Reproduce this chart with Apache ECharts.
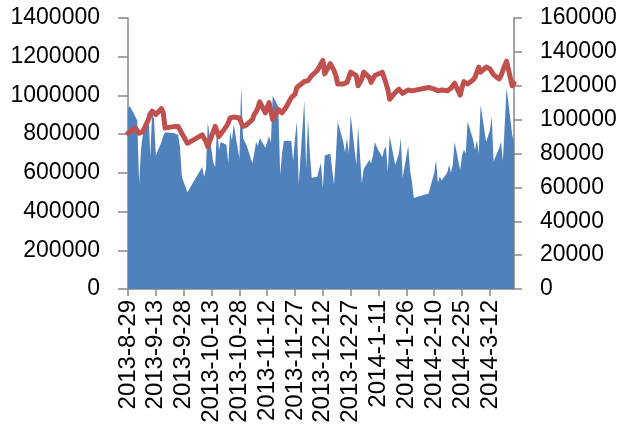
<!DOCTYPE html>
<html>
<head>
<meta charset="utf-8">
<script src="https://cdn.jsdelivr.net/npm/echarts@6/dist/echarts.min.js"></script>
<style>
  html, body { margin: 0; padding: 0; background: #fff; }
  #chart { width: 621px; height: 430px; }
</style>
</head>
<body>
<div id="chart"></div>
<script>
// Trading days (one row per week)
const tradeDates = [
  '2013-8-29','2013-8-30',
  '2013-9-2','2013-9-3','2013-9-4','2013-9-5','2013-9-6',
  '2013-9-9','2013-9-10','2013-9-11','2013-9-12','2013-9-13',
  '2013-9-16','2013-9-17','2013-9-18',
  '2013-9-23','2013-9-24','2013-9-25','2013-9-26','2013-9-27',
  '2013-9-30',
  '2013-10-8','2013-10-9','2013-10-10','2013-10-11',
  '2013-10-14','2013-10-15','2013-10-16','2013-10-17','2013-10-18',
  '2013-10-21','2013-10-22','2013-10-23','2013-10-24','2013-10-25',
  '2013-10-28','2013-10-29','2013-10-30','2013-10-31','2013-11-1',
  '2013-11-4','2013-11-5','2013-11-6','2013-11-7','2013-11-8',
  '2013-11-11','2013-11-12','2013-11-13','2013-11-14','2013-11-15',
  '2013-11-18','2013-11-19','2013-11-20','2013-11-21','2013-11-22',
  '2013-11-25','2013-11-26','2013-11-27','2013-11-28','2013-11-29',
  '2013-12-2','2013-12-3','2013-12-4','2013-12-5','2013-12-6',
  '2013-12-9','2013-12-10','2013-12-11','2013-12-12','2013-12-13',
  '2013-12-16','2013-12-17','2013-12-18','2013-12-19','2013-12-20',
  '2013-12-23','2013-12-24','2013-12-25','2013-12-26','2013-12-27',
  '2013-12-30','2013-12-31','2014-1-2','2014-1-3',
  '2014-1-6','2014-1-7','2014-1-8','2014-1-9','2014-1-10',
  '2014-1-13','2014-1-14','2014-1-15','2014-1-16','2014-1-17',
  '2014-1-20','2014-1-21','2014-1-22','2014-1-23','2014-1-24',
  '2014-1-27','2014-1-28','2014-1-29','2014-1-30',
  '2014-2-7',
  '2014-2-10','2014-2-11','2014-2-12','2014-2-13','2014-2-14',
  '2014-2-17','2014-2-18','2014-2-19','2014-2-20','2014-2-21',
  '2014-2-24','2014-2-25','2014-2-26','2014-2-27','2014-2-28',
  '2014-3-3','2014-3-4','2014-3-5','2014-3-6','2014-3-7',
  '2014-3-10','2014-3-11','2014-3-12','2014-3-13','2014-3-14',
  '2014-3-17','2014-3-18','2014-3-19','2014-3-20','2014-3-21',
  '2014-3-24','2014-3-25'
];

// Blue area, left axis
const volume = [
  930000, 945000,
  890000, 870000, 540000, 720000, 800000,
  925000, 685000, 905000, 880000, 690000,
  760000, 790000, 810000,
  805000, 805000, 795000, 735000, 580000,
  500000,
  630000, 580000, 620000, 860000,
  650000, 632000, 845000, 718000, 760000,
  745000, 650000, 810000, 770000, 850000,
  675000, 1050000, 780000, 770000, 740000,
  650000, 700000, 760000, 740000, 780000,
  730000, 760000, 790000, 755000, 1000000,
  940000, 590000, 700000, 765000, 765000,
  765000, 660000, 780000, 865000, 540000,
  975000, 620000, 880000, 700000, 575000,
  580000, 620000, 650000, 520000, 690000,
  700000, 700000, 540000, 680000, 865000,
  760000, 705000, 780000, 700000, 900000,
  640000, 840000, 546000, 620000,
  666000, 650000, 690000, 760000, 735000,
  680000, 720000, 735000, 606000, 790000,
  640000, 650000, 700000, 780000, 575000,
  740000, 610000, 555000, 470000,
  494000,
  600000, 665000, 550000, 580000, 560000,
  600000, 640000, 600000, 640000, 760000,
  615000, 690000, 720000, 700000, 865000,
  770000, 718000, 770000, 700000, 950000,
  760000, 750000, 820000, 890000, 660000,
  727000, 761000, 660000, 850000, 1040000,
  800000, 755000
];

// Red line, right axis
const indexLevel = [
  92000, 93000,
  95000, 94000, 92000, 91000, 93000,
  100000, 103000, 105000, 104000, 103000,
  106500, 104000, 95000,
  96000, 95500, 96000, 97000, 92000,
  86000,
  91000, 90000, 87000, 84000,
  93000, 96000, 97000, 90000, 89000,
  96000, 98000, 101000, 102000, 101500,
  101000, 98000, 96000, 96000, 97000,
  100000, 103000, 104500, 107000, 110500,
  104000, 107000, 110000, 109000, 100000,
  106000, 105000, 104000, 104500, 107000,
  113000, 114000, 115000, 119000, 118000,
  122500, 123500, 123000, 124500, 126000,
  129000, 131000, 133000, 135000, 127000,
  133000, 131000, 129000, 126000, 121000,
  121000, 121500, 122000, 125000, 128000,
  126000, 120000, 124000, 128000,
  125000, 122000, 123000, 126000, 127000,
  128000, 125000, 124000, 118000, 112000,
  116000, 117000, 118000, 119000, 115500,
  117500, 116500, 117000, 117500,
  119000,
  118000, 118000, 117000, 117500, 117500,
  117000, 117500, 118500, 120000, 121500,
  114500, 119000, 122500, 121500, 121000,
  123500, 125000, 126000, 131000, 128000,
  131000, 132000, 130000, 129000, 126500,
  124000, 126000, 129000, 132000, 134500,
  120000, 121500
];

// Calendar axis: every day from first to last trading day
function dayKey(d) {
  return d.getFullYear() + '-' + (d.getMonth() + 1) + '-' + d.getDate();
}
const parts0 = tradeDates[0].split('-').map(Number);
const partsN = tradeDates[tradeDates.length - 1].split('-').map(Number);
const cursor = new Date(parts0[0], parts0[1] - 1, parts0[2]);
const endDay = new Date(partsN[0], partsN[1] - 1, partsN[2]);
const calendarDays = [];
while (cursor <= endDay) {
  calendarDays.push(dayKey(cursor));
  cursor.setDate(cursor.getDate() + 1);
}

const volByDay = {}, idxByDay = {};
tradeDates.forEach((d, i) => { volByDay[d] = volume[i]; idxByDay[d] = indexLevel[i]; });
const volSeries = calendarDays.map(d => (d in volByDay ? volByDay[d] : null));
const idxSeries = calendarDays.map(d => (d in idxByDay ? idxByDay[d] : null));

const LABEL_STEP = 15;
const axisGrey = '#868686';
const yLabelFont = { fontFamily: 'Liberation Sans', fontSize: 23, color: '#000' };
const xLabelFont = { fontFamily: 'Liberation Sans', fontSize: 24, color: '#000' };

const chart = echarts.init(document.getElementById('chart'), null, { renderer: 'canvas' });
chart.setOption({
  animation: false,
  backgroundColor: '#fff',
  grid: { left: 128, right: 107, top: 18, bottom: 141, containLabel: false },
  xAxis: {
    type: 'category',
    data: calendarDays,
    boundaryGap: false,
    axisLine: { show: true, lineStyle: { color: axisGrey, width: 1.5 } },
    axisTick: {
      show: true, length: 7, inside: false,
      interval: (i) => i % LABEL_STEP === 0,
      lineStyle: { color: axisGrey, width: 1.5 }
    },
    axisLabel: Object.assign({
      rotate: 90, margin: 11,
      interval: (i) => i % LABEL_STEP === 0
    }, xLabelFont),
    splitLine: { show: false }
  },
  yAxis: [
    {
      type: 'value', position: 'left',
      min: 0, max: 1400000, interval: 200000,
      axisLine: { show: true, lineStyle: { color: axisGrey, width: 1.5 } },
      axisTick: { show: true, length: 10, lineStyle: { color: axisGrey, width: 1.5 } },
      axisLabel: Object.assign({ margin: 28, formatter: v => String(v) }, yLabelFont),
      splitLine: { show: false }
    },
    {
      type: 'value', position: 'right',
      min: 0, max: 160000, interval: 20000,
      axisLine: { show: true, lineStyle: { color: axisGrey, width: 1.5 } },
      axisTick: { show: true, length: 8, lineStyle: { color: axisGrey, width: 1.5 } },
      axisLabel: Object.assign({ margin: 26, formatter: v => String(v) }, yLabelFont),
      splitLine: { show: false }
    }
  ],
  series: [
    {
      name: 'volume',
      type: 'line',
      yAxisIndex: 0,
      data: volSeries,
      connectNulls: true,
      showSymbol: false,
      symbol: 'none',
      lineStyle: { width: 0, color: '#4F81BD' },
      itemStyle: { color: '#4F81BD' },
      areaStyle: { color: '#4F81BD', opacity: 1 },
      z: 2
    },
    {
      name: 'index',
      type: 'line',
      yAxisIndex: 1,
      data: idxSeries,
      connectNulls: true,
      showSymbol: false,
      symbol: 'none',
      lineStyle: { width: 5, color: '#C0504D', cap: 'round', join: 'round' },
      itemStyle: { color: '#C0504D' },
      z: 3
    }
  ]
});
</script>
</body>
</html>
